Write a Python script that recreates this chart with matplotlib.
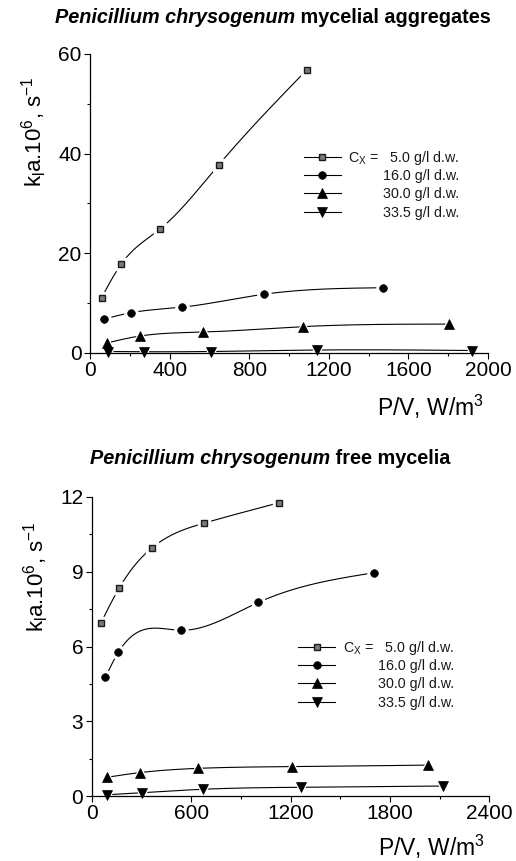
import numpy as np
import matplotlib
matplotlib.use('Agg')
import matplotlib.pyplot as plt
from matplotlib.lines import Line2D
from matplotlib.text import Annotation
from matplotlib.ticker import MultipleLocator

plt.rcParams['font.family'] = 'Liberation Sans'
plt.rcParams['mathtext.fontset'] = 'custom'
plt.rcParams['mathtext.rm'] = 'Liberation Sans'
plt.rcParams['mathtext.it'] = 'Liberation Sans:italic'
plt.rcParams['mathtext.bf'] = 'Liberation Sans:bold'

# legend labels (concentration of biomass)
conc_labels = ['C$_\\mathrm{X}$ =   5.0 g/l d.w.', '16.0 g/l d.w.', '30.0 g/l d.w.', '33.5 g/l d.w.']

# top panel: mycelial aggregates  (P/V, W/m3 ; kLa*1e6, 1/s)
agg_x_5 = [58, 158, 350, 646, 1089]
agg_y_5 = [11.1, 17.9, 24.8, 37.7, 56.8]
agg_x_16 = [70, 208, 463, 876, 1471]
agg_y_16 = [6.8, 8.1, 9.2, 11.8, 13.1]
agg_x_30 = [83, 250, 570, 1072, 1806]
agg_y_30 = [2.0, 3.4, 4.2, 5.3, 5.8]
agg_x_335 = [88, 270, 606, 1139, 1918]
agg_y_335 = [0.3, 0.25, 0.3, 0.6, 0.5]

# bottom panel: free mycelia
free_x_5 = [56, 167, 362, 678, 1132]
free_y_5 = [6.95, 8.36, 9.95, 10.95, 11.77]
free_x_16 = [82, 161, 539, 1006, 1704]
free_y_16 = [4.76, 5.77, 6.65, 7.77, 8.96]
free_x_30 = [90, 292, 643, 1207, 2032]
free_y_30 = [0.75, 0.94, 1.11, 1.18, 1.24]
free_x_335 = [94, 302, 670, 1261, 2119]
free_y_335 = [0.05, 0.13, 0.27, 0.35, 0.40]

markers = ['s', 'o', '^', 'v']
msizes = [4.8, 5.5, 6.5, 6.5]
LEG_FS = 10.3


def natural_spline(x, y, num=300):
    # smooth connecting line like the original software draws
    x = np.asarray(x, float)
    y = np.asarray(y, float)
    n = len(x)
    h = np.diff(x)
    A = np.zeros((n, n))
    r = np.zeros(n)
    A[0, 0] = A[-1, -1] = 1
    for i in range(1, n - 1):
        A[i, i - 1] = h[i - 1]
        A[i, i] = 2 * (h[i - 1] + h[i])
        A[i, i + 1] = h[i]
        r[i] = 6 * ((y[i + 1] - y[i]) / h[i] - (y[i] - y[i - 1]) / h[i - 1])
    M = np.linalg.solve(A, r)
    xs = np.linspace(x[0], x[-1], num)
    k = np.clip(np.searchsorted(x, xs) - 1, 0, n - 2)
    t0 = x[k + 1] - xs
    t1 = xs - x[k]
    ys = (M[k] * t0**3 + M[k + 1] * t1**3) / (6 * h[k]) \
        + (y[k] / h[k] - M[k] * h[k] / 6) * t0 \
        + (y[k + 1] / h[k] - M[k + 1] * h[k] / 6) * t1
    return xs, ys


def marker_style(i):
    if markers[i] == 's':
        return dict(mfc='#7a7a7a', mec='#1a1a1a', mew=1.0)
    return dict(mfc='black', mec='black', mew=0.5)


def panel(ax, series, xmax, xstep, ymax, ystep, leg_xy, text_right, xlab_y, ylab_y):
    for i, (x, y) in enumerate(series):
        xs, ys = natural_spline(x, y)
        ax.plot(xs, ys, color='black', lw=0.8, zorder=2)
        # white halo -> small gap between line and symbol
        ax.plot(x, y, ls='none', marker=markers[i], ms=msizes[i] + 4,
                mfc='white', mec='white', zorder=2.2, clip_on=False)
        ax.plot(x, y, ls='none', marker=markers[i], ms=msizes[i],
                zorder=3, clip_on=False, **marker_style(i))
    ax.set_xlim(0, xmax)
    ax.set_ylim(0, ymax)
    ax.xaxis.set_major_locator(MultipleLocator(xstep))
    ax.xaxis.set_minor_locator(MultipleLocator(xstep / 2))
    ax.yaxis.set_major_locator(MultipleLocator(ystep))
    ax.yaxis.set_minor_locator(MultipleLocator(ystep / 2))
    for s in ['top', 'right']:
        ax.spines[s].set_visible(False)
    for s in ['left', 'bottom']:
        ax.spines[s].set_linewidth(0.9)
    ax.tick_params(which='major', direction='out', length=4, width=0.8,
                   labelsize=15, pad=2)
    ax.tick_params(which='minor', direction='out', length=2.3, width=0.8)
    ax.set_xlabel('P/V, W/m$^3$', fontsize=16.5, ha='right')
    ax.xaxis.set_label_coords(0.99, xlab_y)
    ax.set_ylabel('k$_\\mathrm{l}$a.10$^6$, s$^{-1}$', fontsize=16)
    ax.yaxis.set_label_coords(-0.102, ylab_y)

    handles = [Line2D([], [], color='black', lw=0.8, marker=markers[i],
                      ms=msizes[i], **marker_style(i)) for i in range(4)]
    leg = ax.legend(handles, [' '] * 4, loc='upper left', bbox_to_anchor=leg_xy,
                    frameon=False, fontsize=LEG_FS, handlelength=2.6,
                    handletextpad=0.3, labelspacing=0.3, borderpad=0,
                    borderaxespad=0)
    # right-aligned labels, on the rows of the legend (drawn after the legend)
    for t, lab in zip(leg.get_texts(), conc_labels):
        ax.annotate(lab, xy=(text_right, 0), xycoords=(ax.transAxes, t),
                    xytext=(0, 0.21 * LEG_FS), textcoords='offset points',
                    ha='right', va='baseline', fontsize=LEG_FS, color='#1a1a1a',
                    zorder=6)
    return leg


fig = plt.figure(figsize=(5.16, 8.61), dpi=100)
ax1 = fig.add_axes([90 / 516, 1 - 353 / 861, 398 / 516, 299 / 861])
ax2 = fig.add_axes([91.7 / 516, 1 - 796 / 861, 397.6 / 516, 299 / 861])

panel(ax1, [(agg_x_5, agg_y_5), (agg_x_16, agg_y_16), (agg_x_30, agg_y_30),
            (agg_x_335, agg_y_335)], 2000, 400, 60, 20, (0.537, 0.676), 0.927,
      -0.133, 0.742)
panel(ax2, [(free_x_5, free_y_5), (free_x_16, free_y_16), (free_x_30, free_y_30),
            (free_x_335, free_y_335)], 2400, 600, 12, 3, (0.519, 0.519), 0.911,
      -0.122, 0.733)

# titles: italic genus/species + bold rest
t1 = fig.text(55 / 516, 1 - 23 / 861, 'Penicillium chrysogenum', fontsize=14.3,
              fontweight='bold', fontstyle='italic', va='baseline')
fig.add_artist(Annotation(' mycelial aggregates', xy=(1, 0), xycoords=t1,
                          va='bottom', ha='left', fontsize=14.3, fontweight='bold'))
t2 = fig.text(90 / 516, 1 - 464 / 861, 'Penicillium chrysogenum', fontsize=14.3,
              fontweight='bold', fontstyle='italic', va='baseline')
fig.add_artist(Annotation(' free mycelia', xy=(1, 0), xycoords=t2,
                          va='bottom', ha='left', fontsize=14.3, fontweight='bold'))

fig.savefig('out.png', dpi=100)
